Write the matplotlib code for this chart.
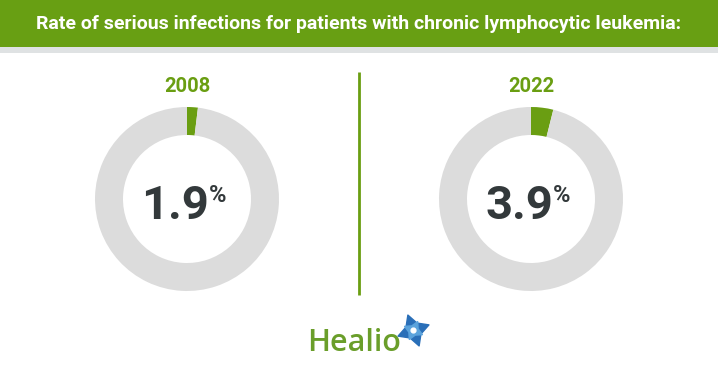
import matplotlib.pyplot as plt
from matplotlib.patches import Rectangle

# 데이터
years = ['2008', '2022']
rates = [1.9, 3.9]
title = 'Rate of serious infections for patients with chronic lymphocytic leukemia:'

GREEN = '#6a9e12'
RING = '#dcdcdc'
DARK = '#33393b'

W, H = 718, 377
fig = plt.figure(figsize=(W / 100, H / 100), dpi=100)
bg = fig.add_axes([0, 0, 1, 1])
bg.set_xlim(0, W)
bg.set_ylim(H, 0)
bg.axis('off')

# 헤더
bg.add_patch(Rectangle((0, 0), W, 47, color='#689f13', lw=0))
bg.add_patch(Rectangle((0, 47), W, 6, color='#dfe2e3', lw=0))
bg.text(W / 2, 24, title, color='white', fontsize=14, fontweight='bold',
        family='Roboto', ha='center', va='center')

# 구분선
bg.plot([359, 359], [72, 295], color=GREEN, lw=2, solid_capstyle='butt')

# 도넛
centers = [187, 531]
cy, r = 199, 92
for cx, year, rate in zip(centers, years, rates):
    ax = fig.add_axes([(cx - r) / W, (H - cy - r) / H, 2 * r / W, 2 * r / H])
    ax.pie([rate, 100 - rate], colors=[GREEN, RING], startangle=90, counterclock=False,
           radius=1, wedgeprops=dict(width=28 / r, linewidth=0))
    ax.set_xlim(-1, 1)
    ax.set_ylim(-1, 1)
    ax.axis('off')

    bg.text(cx, 87, year, color=GREEN, fontsize=14.5, fontweight='bold',
            family='Roboto', ha='center', va='center')
    num = bg.text(cx - 12, 206, f'{rate}', color=DARK, fontsize=34, fontweight='bold',
                  family='Roboto', ha='center', va='center')
    bg.annotate('%', xy=(1.0, 1.0), xycoords=num, color=DARK, fontsize=17,
                fontweight='bold', family='Roboto', ha='left', va='top')

# 로고
bg.text(307, 343, 'Healio', color='#6a9e2a', fontsize=22, fontweight='semibold',
        family='Open Sans', ha='left', va='center')
bg.scatter([413], [330], marker=(4, 1, 20), s=560, color='#2a6fb8', zorder=5)
bg.scatter([413], [330], marker=(4, 1, 65), s=200, color='#5ba3dc', zorder=6)
bg.scatter([413], [330], marker='o', s=12, color='white', zorder=7)

plt.savefig('out.png', dpi=100)
plt.close()
